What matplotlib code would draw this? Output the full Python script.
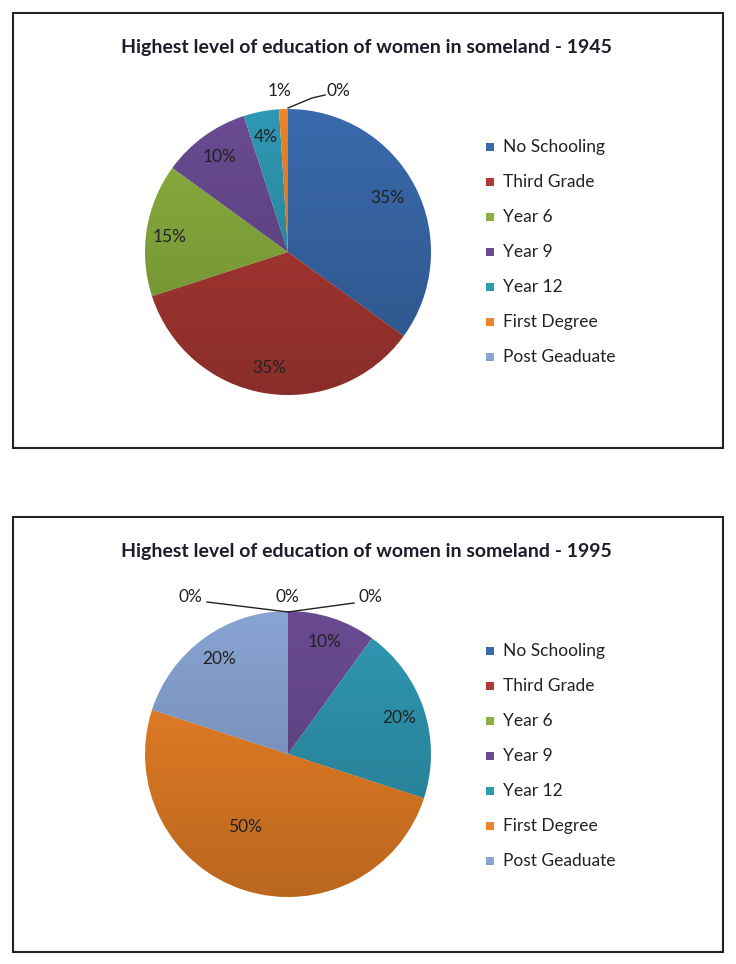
import numpy as np
import matplotlib.pyplot as plt
from matplotlib.patches import Rectangle, Circle

plt.rcParams['font.family'] = ['Lato', 'DejaVu Sans']

# data
categories = ['No Schooling', 'Third Grade', 'Year 6', 'Year 9', 'Year 12',
              'First Degree', 'Post Geaduate']
share_1945 = [35, 35, 15, 10, 4, 1, 0]
share_1995 = [0, 0, 0, 10, 20, 50, 20]
colors = ['#3a6aad', '#b03a35', '#8bb03f', '#6a4b92', '#2f98b3',
          '#ee8327', '#88a4d3']
titles = ['Highest level of education of women in someland - 1945',
          'Highest level of education of women in someland - 1995']

W, H = 736, 964
R = 143      # pie radius, px
HALF = 170   # half size of pie axes, px

fig = plt.figure(figsize=(W / 100, H / 100), dpi=100)
fig.patch.set_facecolor('white')


def fx(x):
    return x / W


def fy(y):
    return 1 - y / H


def px(xp, yp, cx, cy):
    # picture pixel -> pie data coords
    return ((xp - cx) / R, (cy - yp) / R)


def draw_chart(values, title, top, cx, cy, fixed, lines):
    # frame and title
    fig.patches.append(Rectangle((fx(13), fy(top + 435)), fx(710), 435 / H,
                                 transform=fig.transFigure, fill=False,
                                 edgecolor='#222222', linewidth=1.5))
    fig.text(fx(366), fy(top + 35), title, ha='center', va='center',
             fontsize=14, fontweight='bold', color='#1c1c2a')

    ax = fig.add_axes([fx(cx - HALF), fy(cy + HALF), 2 * HALF / W, 2 * HALF / H])
    wedges, _ = ax.pie(values, colors=colors, startangle=90, counterclock=False,
                       radius=1, wedgeprops=dict(linewidth=0))
    lim = HALF / R
    ax.set_xlim(-lim, lim)
    ax.set_ylim(-lim, lim)
    ax.set_aspect('equal')
    ax.axis('off')

    # soft top-to-bottom shading like the original
    grad = np.linspace(0, 1, 200).reshape(-1, 1)
    shade = np.zeros((200, 1, 4))
    shade[..., 3] = 0.22 * grad
    im = ax.imshow(shade, extent=(-1, 1, -1, 1), origin='upper',
                   aspect='auto', zorder=3)
    im.set_clip_path(Circle((0, 0), 1, transform=ax.transData))

    # percentage labels
    for i, (w, v) in enumerate(zip(wedges, values)):
        if i in fixed:
            x, y = px(*fixed[i], cx, cy)
        else:
            mid = np.deg2rad((w.theta1 + w.theta2) / 2)
            x, y = 0.82 * np.cos(mid), 0.82 * np.sin(mid)
        ax.text(x, y, f'{v}%', ha='center', va='center', fontsize=12.5,
                color='#222222', zorder=5)

    # leader lines
    for seg in lines:
        pts = [px(a, b, cx, cy) for a, b in seg]
        ax.plot([p[0] for p in pts], [p[1] for p in pts], color='#222222',
                linewidth=1, zorder=4, clip_on=False)

    # legend
    for i, (lab, col) in enumerate(zip(categories, colors)):
        ly = top + 134 + i * 35
        fig.patches.append(Rectangle((fx(486), fy(ly + 4)), 8 / W, 8 / H,
                                     transform=fig.transFigure,
                                     facecolor=col, edgecolor='none'))
        fig.text(fx(503), fy(ly), lab, ha='left', va='center', fontsize=12.5,
                 color='#222222')
    return ax


draw_chart(share_1945, titles[0], 13, 288, 252,
           {5: (280, 91), 6: (338, 91), 0: (387, 198), 2: (170, 237)},
           [[(288, 108), (312, 98), (325, 95)]])

draw_chart(share_1995, titles[1], 517, 288, 754,
           {0: (190, 597), 1: (287, 597), 2: (370, 597), 5: (245, 827)},
           [[(207, 602), (288, 612)], [(288, 612), (354, 603)]])

fig.savefig('out.png', dpi=100, facecolor='white')
